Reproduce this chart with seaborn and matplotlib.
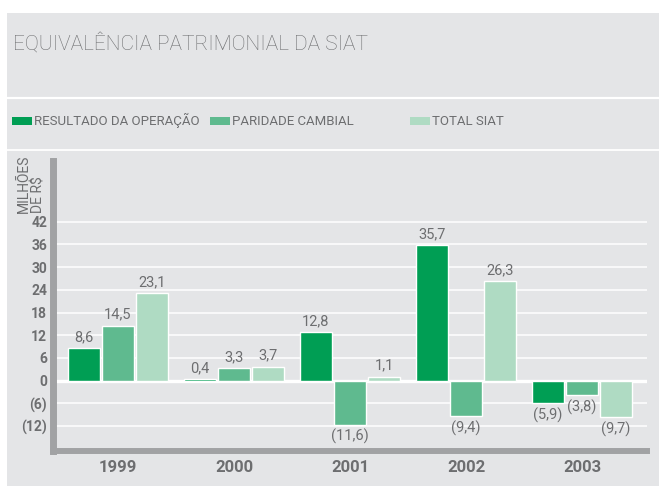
import pandas as pd
import seaborn as sns
import matplotlib.pyplot as plt
from matplotlib.patches import Rectangle
from matplotlib.lines import Line2D

anos = ['1999', '2000', '2001', '2002', '2003']
series = ['RESULTADO DA OPERAÇÃO', 'PARIDADE CAMBIAL', 'TOTAL SIAT']
resultado = [8.6, 0.4, 12.8, 35.7, -5.9]
paridade = [14.5, 3.3, -11.6, -9.4, -3.8]
total = [23.1, 3.7, 1.1, 26.3, -9.7]
yticks = [-18, -12, -6, 0, 6, 12, 18, 24, 30, 36, 42]
ytick_labels = ['', '(12)', '(6)', '0', '6', '12', '18', '24', '30', '36', '42']

cores = ['#009e54', '#5fba8f', '#afdbc3']
fundo = '#e4e5e7'
cinza = '#6d6e70'
eixo = '#a1a2a4'


def fmt(v):
    s = ('%.1f' % abs(v)).replace('.', ',')
    return '(' + s + ')' if v < 0 else s


sns.set_style('white')
plt.rcParams['font.family'] = ['Roboto', 'DejaVu Sans']

df = pd.DataFrame({
    'ano': anos * 3,
    'serie': [s for s in series for _ in anos],
    'valor': resultado + paridade + total,
})

W, H = 659, 486
fig = plt.figure(figsize=(W / 100, H / 100), dpi=100)
fig.patch.set_facecolor('white')

# painel cinza e linhas brancas
fig.patches.append(Rectangle((7 / W, 0), 1, (H - 13) / H, transform=fig.transFigure,
                             facecolor=fundo, edgecolor='none', zorder=-2))
for yy, lw in [(98.5, 1.6), (150.5, 1.3)]:
    fig.add_artist(Line2D([7 / W, 1], [1 - yy / H] * 2, color='white', lw=lw,
                          zorder=-1))

fig.text(13 / W, 1 - 50 / H, 'EQUIVALÊNCIA PATRIMONIAL DA SIAT', fontsize=15,
         fontweight='light', color=cinza, va='baseline', ha='left')

# legenda manual
for x0, nome, cor in zip([12, 210, 410], series, cores):
    fig.patches.append(Rectangle((x0 / W, 1 - 125 / H), 20 / W, 8 / H,
                                 transform=fig.transFigure, facecolor=cor,
                                 edgecolor='none', zorder=-1))
    fig.text((x0 + 22) / W, 1 - 125 / H, nome, fontsize=9.5, color=cinza,
             va='baseline', ha='left')

ax = fig.add_axes([53.5 / W, (H - 451) / H, (647 - 53.5) / W, (451 - 161) / H])
ax.set_zorder(1)
ax.patch.set_visible(False)

sns.barplot(data=df, x='ano', y='valor', hue='serie', palette=cores,
            saturation=1, width=0.88, gap=0.06, legend=False, ax=ax, zorder=2)

for cont, vals in zip(ax.containers, [resultado, paridade, total]):
    ax.bar_label(cont, labels=[fmt(v) for v in vals], padding=3,
                 fontsize=10.5, color=cinza)

ax.set_xlim(-0.556, 4.56)
ax.set_ylim(-18.55, 58)
ax.set_yticks(yticks)
ax.set_yticklabels(ytick_labels, fontsize=10, fontweight='bold', color=cinza)
ax.set_xticks(range(len(anos)))
ax.set_xticklabels(anos, fontsize=12, fontweight='bold', color=cinza)
ax.tick_params(axis='both', length=0)
ax.tick_params(axis='y', pad=4.5)
ax.tick_params(axis='x', pad=6.5)
ax.set_xlabel('')
ax.set_ylabel('')
ax.yaxis.grid(True, color='white', lw=1.1)
ax.set_axisbelow(True)
ax.axhline(0, color='white', lw=2.4, zorder=1.5)

for lado in ['top', 'right']:
    ax.spines[lado].set_visible(False)
ax.spines['left'].set_color(eixo)
ax.spines['left'].set_linewidth(5.0)
ax.spines['bottom'].set_color(eixo)
ax.spines['bottom'].set_linewidth(4.3)

fig.text(31 / W, 1 - 213 / H, 'MILHÕES\nDE R$', rotation=90, fontsize=10,
         color=cinza, ha='center', va='bottom', multialignment='left',
         linespacing=1.0)

fig.savefig('out.png', dpi=100)
